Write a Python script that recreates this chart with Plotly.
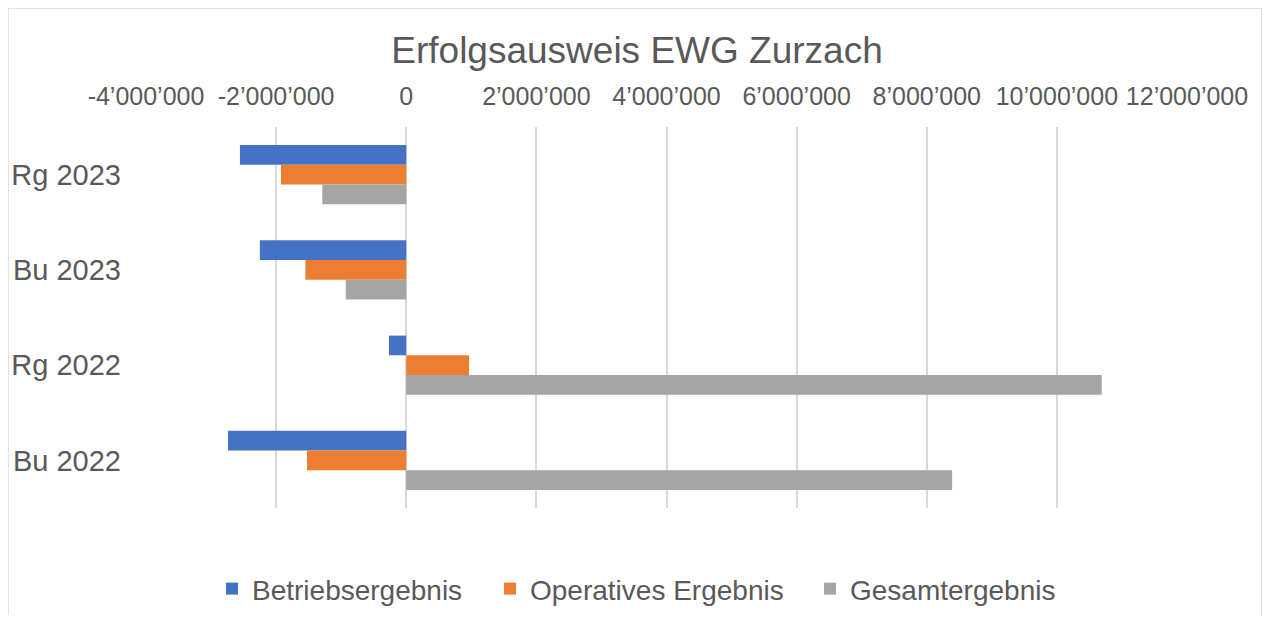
import plotly.graph_objects as go

categories = ["Rg 2023", "Bu 2023", "Rg 2022", "Bu 2022"]
betriebsergebnis = [-2556000, -2250000, -265000, -2740000]
operatives_ergebnis = [-1925000, -1550000, 965000, -1525000]
gesamtergebnis = [-1290000, -930000, 10690000, 8390000]

series_names = ["Betriebsergebnis", "Operatives Ergebnis", "Gesamtergebnis"]
series_colors = ["#4472C4", "#ED7D31", "#A5A5A5"]
tick_values = [-4000000, -2000000, 0, 2000000, 4000000, 6000000, 8000000, 10000000, 12000000]


def fmt(v):
    s = f"{abs(v):,}".replace(",", "\u2019")
    return ("-" if v < 0 else "") + s


tick_labels = [fmt(v) for v in tick_values]

W, H = 1254, 607
L, T, PW, PH = 138, 119, 1041, 381
font_family = "Liberation Sans, Arial, sans-serif"

legend_ids = ["legend", "legend2", "legend3"]
legend_left_px = [204, 482, 802]

fig = go.Figure()
for name, vals, col, lid in zip(series_names, [betriebsergebnis, operatives_ergebnis, gesamtergebnis],
                                series_colors, legend_ids):
    fig.add_trace(go.Bar(
        y=categories, x=vals, name=name, orientation="h", legend=lid, showlegend=True,
        marker=dict(color=col, line=dict(width=0)),
    ))

legend_common = dict(orientation="h", xanchor="left", y=-0.2124, yanchor="middle",
                     font=dict(size=28, color="#595959"), itemwidth=30,
                     bgcolor="rgba(0,0,0,0)", borderwidth=0, visible=True)
legends = {}
for lid, px in zip(legend_ids, legend_left_px):
    legends[lid] = dict(x=(px - L) / PW, **legend_common)

fig.update_layout(
    width=W, height=H, showlegend=True,
    paper_bgcolor="white", plot_bgcolor="white",
    margin=dict(l=L, r=W - L - PW, t=T, b=H - T - PH, autoexpand=False),
    barmode="group", bargap=0.38, bargroupgap=0,
    font=dict(family=font_family, color="#595959"),
    title=dict(text="Erfolgsausweis EWG Zurzach", x=629 / W, xanchor="center",
               y=1 - 42 / H, yref="container", yanchor="middle",
               font=dict(size=37, color="#595959", family=font_family)),
    xaxis=dict(side="top", range=[-4000000, 12000000], tickvals=tick_values, ticktext=tick_labels,
               showgrid=True, gridcolor="#D9D9D9", gridwidth=1.5, zeroline=False,
               showline=False, ticks="", tickfont=dict(size=25, color="#595959"),
               ticklabelstandoff=16, automargin=False),
    yaxis=dict(autorange="reversed", categoryorder="array", categoryarray=categories,
               showgrid=False, zeroline=False, showline=False, ticks="",
               tickfont=dict(size=29, color="#595959"), ticklabelstandoff=24, automargin=False),
    shapes=[dict(type="rect", xref="paper", yref="paper",
                 x0=(0 - L) / PW, x1=(1254 - L) / PW,
                 y0=(T + PH - 640) / PH, y1=(T + PH - 0) / PH,
                 line=dict(color="#D9D9D9", width=1.5), fillcolor="rgba(0,0,0,0)", layer="below")],
    **legends,
)

fig.write_html("out.html")
